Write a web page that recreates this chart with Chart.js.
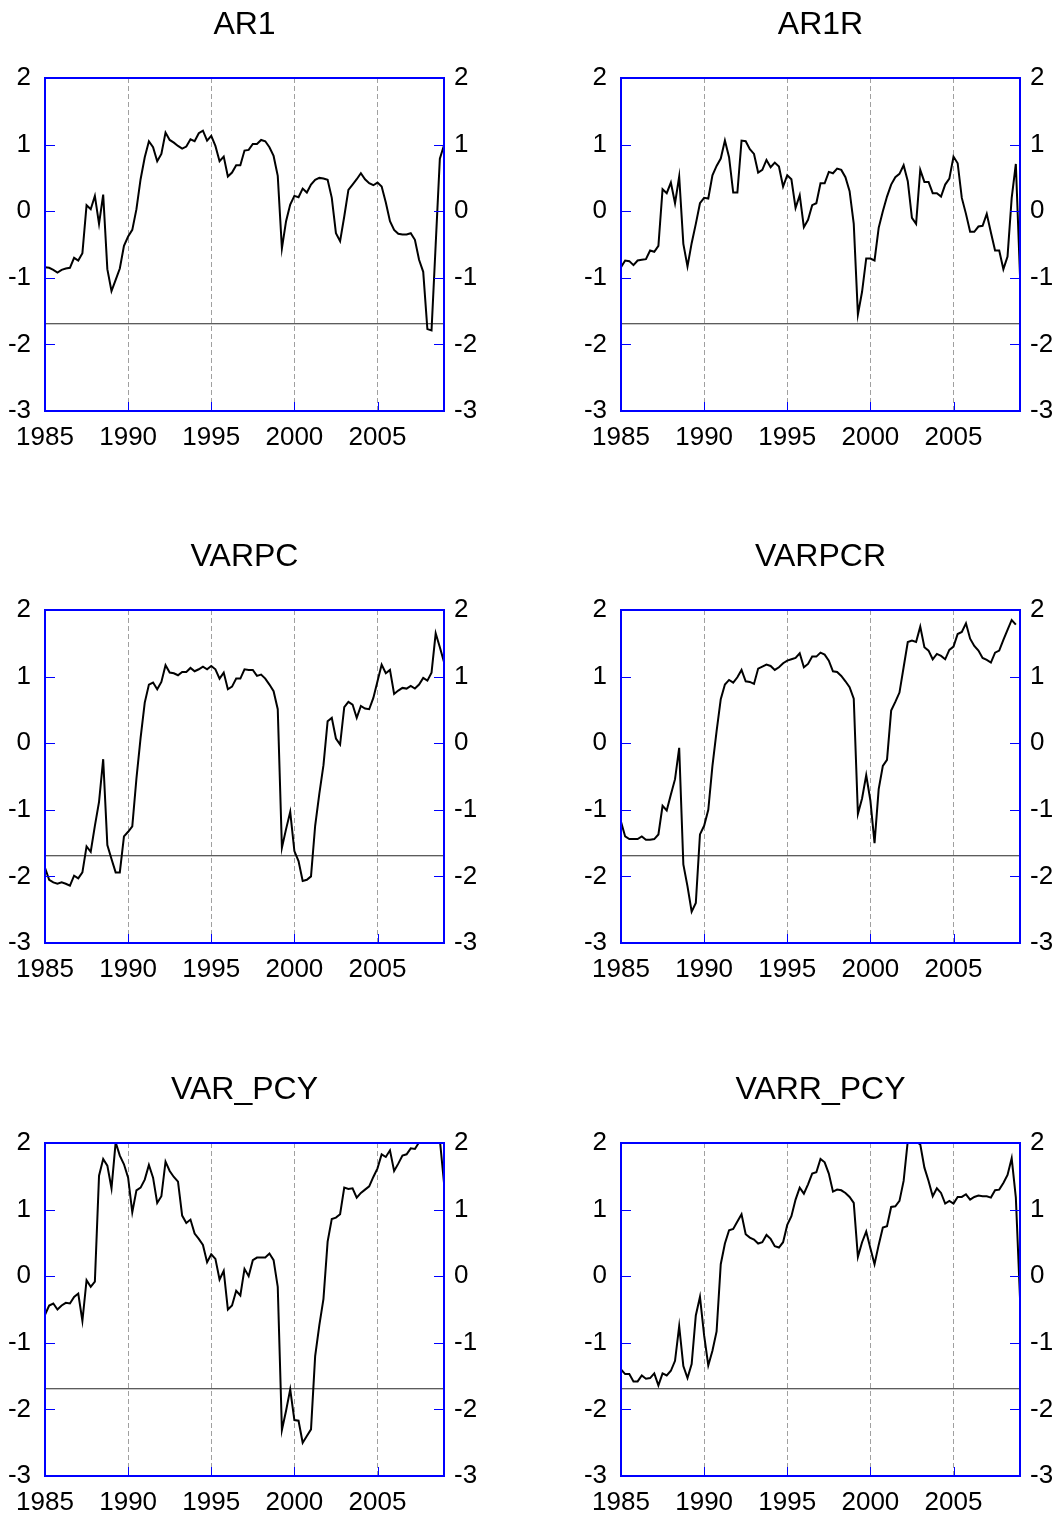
<!DOCTYPE html>
<html>
<head>
<meta charset="utf-8">
<script src="https://cdn.jsdelivr.net/npm/chart.js@4.4.1/dist/chart.umd.min.js"></script>
<style>
  html, body { margin: 0; padding: 0; background: #ffffff; overflow: hidden; }
  body { width: 1058px; height: 1515px; position: relative; }
  canvas { position: absolute; }
</style>
</head>
<body>
<canvas id="c0"></canvas>
<canvas id="c1"></canvas>
<canvas id="c2"></canvas>
<canvas id="c3"></canvas>
<canvas id="c4"></canvas>
<canvas id="c5"></canvas>
<script>
// ---------------- DATA ----------------
const startYear = 1985;          // first quarter 1985Q1, quarterly observations
const nObs = 97;                 // 1985Q1 .. 2009Q1
const xTicks = [1985, 1990, 1995, 2000, 2005];
const yTicks = [-3, -2, -1, 0, 1, 2];
const critValue = -1.69;
const titles = ['AR1', 'AR1R', 'VARPC', 'VARPCR', 'VAR_PCY', 'VARR_PCY'];

const ar1 = [-0.84,-0.85,-0.88,-0.92,-0.88,-0.86,-0.85,-0.70,-0.74,-0.63,
  0.09,0.03,0.23,-0.19,0.25,-0.87,-1.20,-1.03,-0.86,-0.52,
  -0.38,-0.28,0.03,0.48,0.81,1.05,0.96,0.75,0.86,1.18,
  1.07,1.03,0.98,0.94,0.97,1.08,1.05,1.17,1.21,1.06,
  1.13,0.98,0.75,0.82,0.52,0.58,0.69,0.69,0.91,0.92,
  1.01,1.01,1.07,1.05,0.96,0.83,0.53,-0.56,-0.15,0.10,
  0.23,0.21,0.34,0.28,0.40,0.47,0.50,0.49,0.47,0.20,
  -0.33,-0.45,-0.08,0.32,0.40,0.48,0.57,0.48,0.42,0.39,
  0.43,0.37,0.13,-0.15,-0.28,-0.34,-0.35,-0.35,-0.33,-0.43,
  -0.73,-0.91,-1.77,-1.79,-0.50,0.79,0.99];

const ar1r = [-0.84,-0.74,-0.75,-0.81,-0.74,-0.73,-0.72,-0.59,-0.61,-0.52,
  0.33,0.27,0.43,0.12,0.52,-0.49,-0.83,-0.48,-0.19,0.12,
  0.20,0.19,0.54,0.68,0.79,1.06,0.81,0.28,0.28,1.06,
  1.05,0.93,0.86,0.58,0.62,0.77,0.66,0.73,0.67,0.37,
  0.54,0.48,0.05,0.24,-0.24,-0.13,0.09,0.12,0.42,0.42,
  0.59,0.57,0.64,0.62,0.51,0.30,-0.19,-1.55,-1.21,-0.71,
  -0.71,-0.74,-0.25,0.00,0.22,0.40,0.51,0.56,0.69,0.45,
  -0.10,-0.19,0.62,0.44,0.44,0.27,0.27,0.22,0.40,0.49,
  0.82,0.72,0.20,-0.04,-0.31,-0.31,-0.23,-0.22,-0.04,-0.32,
  -0.59,-0.59,-0.87,-0.68,0.20,0.71,-0.97];

const varpc = [-1.87,-2.05,-2.09,-2.11,-2.09,-2.11,-2.14,-1.99,-2.03,-1.94,
  -1.55,-1.63,-1.24,-0.88,-0.24,-1.53,-1.74,-1.94,-1.94,-1.40,
  -1.33,-1.25,-0.53,0.08,0.61,0.88,0.91,0.81,0.92,1.17,
  1.06,1.05,1.02,1.07,1.07,1.13,1.08,1.11,1.15,1.11,
  1.16,1.11,0.97,1.06,0.81,0.85,0.97,0.97,1.11,1.10,
  1.10,1.01,1.03,0.97,0.88,0.78,0.51,-1.57,-1.29,-1.03,
  -1.62,-1.77,-2.07,-2.05,-2.00,-1.24,-0.76,-0.33,0.33,0.38,
  0.07,-0.02,0.54,0.62,0.58,0.38,0.56,0.52,0.51,0.68,
  0.93,1.18,1.05,1.10,0.74,0.79,0.83,0.82,0.86,0.82,
  0.88,0.98,0.94,1.06,1.65,1.44,1.22];

const varpcr = [-1.18,-1.40,-1.44,-1.44,-1.44,-1.40,-1.45,-1.45,-1.44,-1.37,
  -0.94,-1.01,-0.77,-0.54,-0.07,-1.82,-2.15,-2.53,-2.40,-1.37,
  -1.24,-1.00,-0.34,0.18,0.66,0.88,0.95,0.91,0.99,1.10,
  0.93,0.92,0.89,1.12,1.15,1.18,1.16,1.10,1.14,1.20,
  1.24,1.26,1.28,1.35,1.14,1.19,1.30,1.30,1.36,1.33,
  1.24,1.08,1.07,1.01,0.93,0.84,0.67,-1.06,-0.83,-0.48,
  -0.86,-1.50,-0.69,-0.34,-0.25,0.49,0.62,0.76,1.14,1.52,
  1.54,1.52,1.75,1.44,1.39,1.26,1.34,1.31,1.26,1.40,
  1.45,1.64,1.67,1.80,1.57,1.46,1.39,1.28,1.25,1.21,
  1.36,1.39,1.55,1.70,1.85,1.78,null];

const var_pcy = [-0.58,-0.44,-0.41,-0.50,-0.44,-0.40,-0.41,-0.31,-0.26,-0.67,
  -0.06,-0.16,-0.08,1.51,1.76,1.66,1.32,2.01,1.81,1.68,
  1.48,0.96,1.29,1.33,1.45,1.67,1.48,1.10,1.20,1.72,
  1.58,1.49,1.42,0.91,0.80,0.85,0.64,0.56,0.47,0.21,
  0.33,0.26,-0.05,0.08,-0.50,-0.44,-0.22,-0.29,0.11,0.00,
  0.24,0.28,0.28,0.28,0.34,0.24,-0.16,-2.31,-2.02,-1.70,
  -2.16,-2.17,-2.50,-2.40,-2.30,-1.20,-0.74,-0.34,0.52,0.86,
  0.88,0.93,1.33,1.31,1.32,1.18,1.25,1.30,1.35,1.49,
  1.62,1.83,1.79,1.89,1.58,1.69,1.81,1.83,1.92,1.91,
  2.01,2.10,2.15,2.10,2.15,2.05,1.40];

const varr_pcy = [-1.40,-1.47,-1.47,-1.58,-1.58,-1.49,-1.54,-1.53,-1.46,-1.64,
  -1.46,-1.49,-1.42,-1.27,-0.75,-1.35,-1.53,-1.32,-0.59,-0.31,
  -0.89,-1.34,-1.12,-0.83,0.18,0.49,0.69,0.71,0.82,0.93,
  0.63,0.58,0.55,0.49,0.51,0.62,0.56,0.45,0.43,0.51,
  0.77,0.90,1.15,1.33,1.24,1.38,1.54,1.56,1.76,1.71,
  1.54,1.27,1.30,1.29,1.25,1.19,1.10,0.29,0.51,0.67,
  0.42,0.18,0.47,0.73,0.75,1.04,1.05,1.13,1.43,2.03,
  2.05,2.02,1.98,1.63,1.43,1.20,1.32,1.25,1.09,1.13,
  1.09,1.19,1.19,1.23,1.15,1.19,1.21,1.20,1.20,1.18,
  1.29,1.30,1.40,1.52,1.77,1.18,-0.33];

const seriesList = [ar1, ar1r, varpc, varpcr, var_pcy, varr_pcy];

// ---------------- LAYOUT ----------------
const xMin = 1985, xMax = 2009, yMin = -3, yMax = 2;
const FONT = "'Liberation Sans', Arial, Helvetica, sans-serif";
const colLeft = [0, 529];
const rowTop = [0, 532, 1065];
const canvasW = 529, canvasH = 455;
const axisLeftW = [45, 92];
const axisRightW = [85, 38];

const dates = [];
for (let i = 0; i < nObs; i++) dates.push(startYear + i / 4);

const framePlugin = {
  id: 'frame',
  afterDatasetsDraw(chart) {
    const { ctx, chartArea: a, scales } = chart;
    ctx.save();
    ctx.strokeStyle = '#0000ff';
    ctx.lineWidth = 1;
    ctx.beginPath();
    yTicks.forEach(v => {
      if (v > yMin && v < yMax) {
        const y = Math.round(scales.y.getPixelForValue(v)) + 0.5;
        ctx.moveTo(a.left, y); ctx.lineTo(a.left + 10, y);
        ctx.moveTo(a.right - 10, y); ctx.lineTo(a.right, y);
      }
    });
    xTicks.forEach(v => {
      if (v > xMin && v < xMax) {
        const x = Math.round(scales.x.getPixelForValue(v)) + 0.5;
        ctx.moveTo(x, a.bottom - 9); ctx.lineTo(x, a.bottom);
      }
    });
    ctx.stroke();
    ctx.lineWidth = 2;
    ctx.strokeRect(a.left, a.top, a.right - a.left, a.bottom - a.top);
    ctx.restore();
  }
};

function makeChart(k) {
  const col = k % 2, row = Math.floor(k / 2);
  const cv = document.getElementById('c' + k);
  cv.width = canvasW; cv.height = canvasH;
  cv.style.left = colLeft[col] + 'px';
  cv.style.top = rowTop[row] + 'px';
  cv.style.width = canvasW + 'px';
  cv.style.height = canvasH + 'px';

  const vals = seriesList[k];
  const pts = dates.map((d, i) => ({ x: d, y: vals[i] }));
  const crit = [{ x: xMin, y: critValue }, { x: xMax, y: critValue }];
  const tickFont = { family: FONT, size: 26 };

  new Chart(cv, {
    type: 'line',
    data: {
      datasets: [
        { data: pts, borderColor: '#000000', borderWidth: 2, pointRadius: 0, tension: 0, spanGaps: false },
        { data: crit, borderColor: '#262626', borderWidth: 1, pointRadius: 0 }
      ]
    },
    options: {
      responsive: false,
      animation: false,
      devicePixelRatio: 1,
      layout: { padding: 0 },
      plugins: {
        legend: { display: false },
        tooltip: { enabled: false },
        title: {
          display: true, text: titles[k], fullSize: false,
          color: '#000000',
          font: { family: FONT, size: 32, weight: 'normal', lineHeight: 1.2 },
          padding: { top: 6, bottom: 33.6 }
        }
      },
      scales: {
        x: {
          type: 'linear', min: xMin, max: xMax, position: 'bottom',
          afterBuildTicks: s => { s.ticks = xTicks.map(v => ({ value: v })); },
          afterFit: s => { s.height = 44; },
          ticks: { color: '#000000', font: tickFont, padding: 11, maxRotation: 0, autoSkip: false, callback: v => String(v) },
          grid: {
            drawTicks: false, lineWidth: 1,
            color: c => (c.tick && c.tick.value > xMin) ? '#a0a0a0' : 'rgba(0,0,0,0)'
          },
          border: { display: false, dash: [5, 3] }
        },
        y: {
          type: 'linear', min: yMin, max: yMax, position: 'left',
          afterBuildTicks: s => { s.ticks = yTicks.map(v => ({ value: v })); },
          afterFit: s => { s.width = axisLeftW[col]; },
          ticks: { color: '#000000', font: tickFont, padding: 14, callback: v => String(v) },
          grid: { display: false, drawTicks: false },
          border: { display: false }
        },
        y2: {
          type: 'linear', min: yMin, max: yMax, position: 'right',
          afterBuildTicks: s => { s.ticks = yTicks.map(v => ({ value: v })); },
          afterFit: s => { s.width = axisRightW[col]; },
          ticks: { color: '#000000', font: tickFont, padding: 10, callback: v => String(v) },
          grid: { display: false, drawTicks: false },
          border: { display: false }
        }
      }
    },
    plugins: [framePlugin]
  });
}

for (let k = 0; k < 6; k++) makeChart(k);
</script>
</body>
</html>
